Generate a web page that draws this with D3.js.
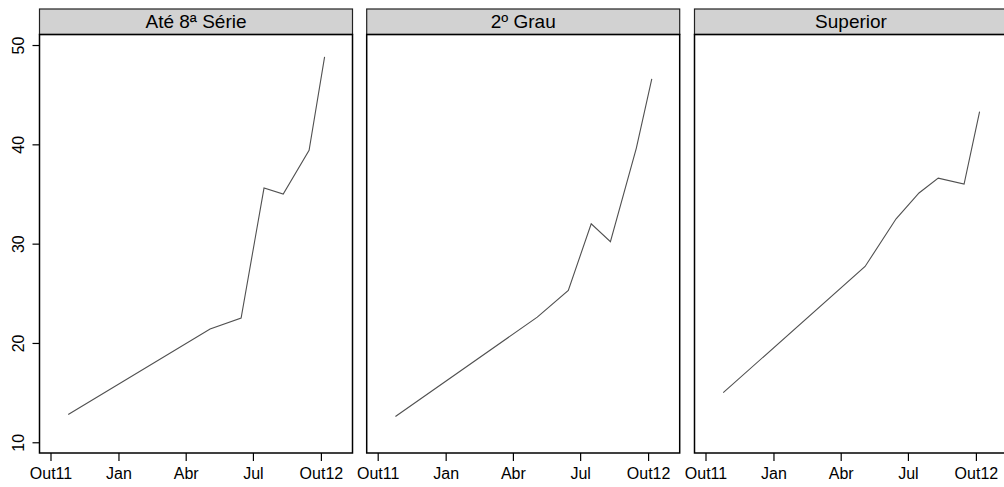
<!DOCTYPE html>
<html>
<head>
<meta charset="utf-8">
<script src="https://cdn.jsdelivr.net/npm/d3@7"></script>
<style>
  html, body { margin: 0; padding: 0; background: #fff; }
  svg { display: block; }
  text { font-family: "Liberation Sans", Arial, sans-serif; fill: #000; }
</style>
</head>
<body>
<svg id="chart" width="1004" height="487"></svg>
<script>
// Survey dates and percentages by schooling level
const dates = ["2011-10-25", "2012-05-04", "2012-06-15", "2012-07-16", "2012-08-11", "2012-09-15", "2012-10-06"];
const ate8Serie = [12.8, 21.4, 22.5, 35.6, 35.0, 39.4, 48.8];
const segundoGrau = [12.6, 22.6, 25.3, 32.0, 30.2, 39.6, 46.6];
const superior = [15.0, 27.7, 32.5, 35.1, 36.6, 36.0, 43.3];
const panelTitles = ["Até 8ª Série", "2º Grau", "Superior"];
const xTickDates = ["2011-10-01", "2012-01-01", "2012-04-01", "2012-07-01", "2012-10-01"];
const xTickLabels = ["Out11", "Jan", "Abr", "Jul", "Out12"];
const yTicks = [10, 20, 30, 40, 50];

const series = [ate8Serie, segundoGrau, superior];
const parse = d3.utcParse("%Y-%m-%d");

// layout
const panelLefts = [39.5, 366.7, 694.5];
const panelW = 313;
const stripTop = 9, stripBottom = 34.5, plotBottom = 453;

const svg = d3.select("#chart");

const x0 = parse("2011-10-01");
const x1 = parse("2012-10-01");
const dayMs = 86400000;
const pxPerDay = 270.4 / 366;
const xDomain = [new Date(+x0 - (11 / pxPerDay) * dayMs), new Date(+x1 + ((panelW - 11 - 270.4) / pxPerDay) * dayMs)];

const y = d3.scaleLinear().domain([8.92, 51.06]).range([plotBottom, stripBottom]);

series.forEach((vals, i) => {
  const left = panelLefts[i];
  const x = d3.scaleUtc().domain(xDomain).range([left, left + panelW]);
  const g = svg.append("g");

  // strip
  g.append("rect")
    .attr("x", left).attr("y", stripTop)
    .attr("width", panelW).attr("height", stripBottom - stripTop)
    .attr("fill", "#d2d2d2").attr("stroke", "#222").attr("stroke-width", 1.2);
  g.append("text")
    .attr("x", left + panelW / 2).attr("y", stripTop + 19)
    .attr("text-anchor", "middle").attr("font-size", 19)
    .text(panelTitles[i]);

  // data line
  const line = d3.line()
    .x((d, j) => x(parse(dates[j])))
    .y(d => y(d));
  g.append("path")
    .datum(vals)
    .attr("d", line)
    .attr("fill", "none").attr("stroke", "#505050").attr("stroke-width", 1.1);

  // panel box
  g.append("rect")
    .attr("x", left).attr("y", stripBottom)
    .attr("width", panelW).attr("height", plotBottom - stripBottom)
    .attr("fill", "none").attr("stroke", "#000").attr("stroke-width", 1.5);

  // x axis
  const xAxis = d3.axisBottom(x)
    .tickValues(xTickDates.map(parse))
    .tickFormat((d, k) => xTickLabels[k])
    .tickSize(8).tickPadding(7).tickSizeOuter(0);
  const ax = g.append("g")
    .attr("transform", `translate(0,${plotBottom})`)
    .call(xAxis);
  ax.select(".domain").remove();
  ax.selectAll(".tick line").attr("stroke", "#000").attr("stroke-width", 1.2);
  ax.selectAll(".tick text").attr("font-size", 16)
    .attr("font-family", "Liberation Sans, Arial, sans-serif").attr("fill", "#000");

  // y axis only on first panel
  if (i === 0) {
    const yAxis = d3.axisLeft(y).tickValues(yTicks).tickSize(7).tickPadding(0).tickSizeOuter(0);
    const ay = g.append("g").attr("transform", `translate(${left},0)`).call(yAxis);
    ay.select(".domain").remove();
    ay.selectAll(".tick line").attr("stroke", "#000").attr("stroke-width", 1.2);
    ay.selectAll(".tick text")
      .attr("font-size", 16)
      .attr("font-family", "Liberation Sans, Arial, sans-serif")
      .attr("fill", "#000")
      .attr("text-anchor", "middle")
      .attr("dy", null)
      .attr("x", null)
      .attr("transform", "translate(-21,0) rotate(-90)")
      .attr("dominant-baseline", "central");
  }
});
</script>
</body>
</html>
